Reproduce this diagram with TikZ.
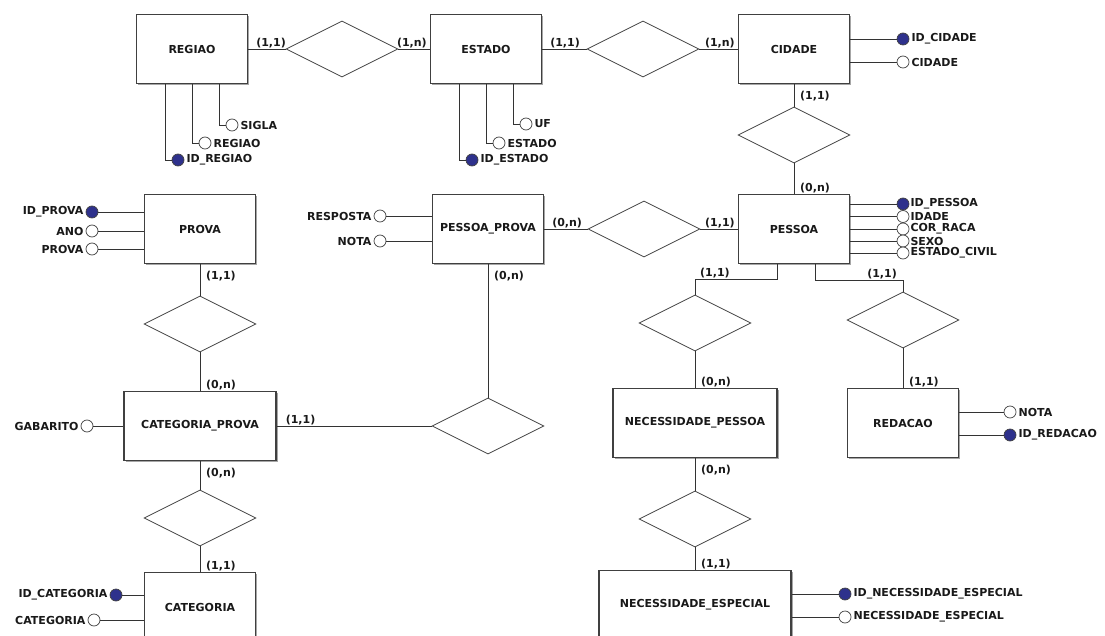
\documentclass[tikz,border=0pt]{standalone}
\usepackage{fontspec}
\setmainfont{DejaVu Sans}
\usetikzlibrary{shapes.geometric,shadows}
\definecolor{keyblue}{RGB}{46,49,140}

\begin{document}
\begin{tikzpicture}[x=1pt,y=-1pt,
  every node/.style={font=\fontsize{11}{12}\selectfont\bfseries, text=black!90},
  entity/.style={draw=black!75, line width=1.1pt, fill=white, inner sep=0pt,
    minimum width=111pt, minimum height=69pt,
    drop shadow={shadow xshift=1.5pt, shadow yshift=-1.5pt, fill=black!35, opacity=1}},
  rel/.style={diamond, draw=black!75, line width=0.8pt, fill=white, inner sep=0pt,
    minimum width=112pt, minimum height=56pt},
  attr/.style={circle, draw=black!75, line width=0.7pt, fill=white, inner sep=0pt,
    minimum size=12pt},
  key/.style={attr, fill=keyblue},
  card/.style={inner sep=1pt},
  lbl/.style={inner sep=2pt},
  conn/.style={draw=black!80, line width=0.8pt}]

\useasboundingbox (0,0) rectangle (1105,636); %% page

%% entidades
\node[entity] (regiao) at (192,49) {REGIAO};
\node[entity] (estado) at (486,49) {ESTADO};
\node[entity] (cidade) at (794,49) {CIDADE};
\node[entity] (prova) at (200,229) {PROVA};
\node[entity] (pessoaprova) at (488,229) {PESSOA\_PROVA};
\node[entity] (pessoa) at (794,229) {PESSOA};
\node[entity, minimum width=152pt] (catprova) at (200,426) {CATEGORIA\_PROVA};
\node[entity, minimum width=164pt] (necpessoa) at (695,423) {NECESSIDADE\_PESSOA};
\node[entity] (redacao) at (903,423) {REDACAO};
\node[entity] (categoria) at (200,607) {CATEGORIA};
\node[entity, minimum width=192pt] (necesp) at (695,605) {NECESSIDADE\_ESPECIAL};

%% relacionamentos
\node[rel] (dRE) at (342,49) {};
\node[rel] (dEC) at (643,49) {};
\node[rel] (dCP) at (794,135) {};
\node[rel] (dPP) at (644,229) {};
\node[rel] (dPC) at (200,324) {};
\node[rel] (dCPP) at (488,426) {};
\node[rel] (dCC) at (200,518) {};
\node[rel] (dPN) at (695,323) {};
\node[rel] (dPR) at (903,320) {};
\node[rel] (dNN) at (695,519) {};

\coordinate (kPN) at ([yshift=15pt]dPN.north);
\coordinate (kPR) at ([yshift=11pt]dPR.north);

\draw[conn] (regiao.east) -- (dRE.west) (dRE.east) -- (estado.west);
\draw[conn] (estado.east) -- (dEC.west) (dEC.east) -- (cidade.west);
\draw[conn] (cidade.south) -- (dCP.north) (dCP.south) -- (pessoa.north);
\draw[conn] (pessoaprova.east) -- (dPP.west) (dPP.east) -- (pessoa.west);
\draw[conn] (prova.south) -- (dPC.north) (dPC.south) -- (catprova.north);
\draw[conn] (catprova.east) -- (dCPP.west) (dCPP.north) -- (pessoaprova.south);
\draw[conn] (catprova.south) -- (dCC.north) (dCC.south) -- (categoria.north);
\draw[conn] ([xshift=-17pt]pessoa.south) |- (kPN) -- (dPN.north);
\draw[conn] ([xshift=21pt]pessoa.south) |- (kPR) -- (dPR.north);
\draw[conn] (dPN.south) -- (necpessoa.north);
\draw[conn] (dPR.south) -- (redacao.north);
\draw[conn] (necpessoa.south) -- (dNN.north) (dNN.south) -- (necesp.north);

%% cardinalidades
\node[card, anchor=south west] (k1) at ([xshift=7pt]regiao.east) {(1,1)};
\node[card, anchor=south east] (k2) at ([xshift=-2pt]estado.west) {(1,n)};
\node[card, anchor=south west] (k3) at ([xshift=7pt]estado.east) {(1,1)};
\node[card, anchor=south east] (k4) at ([xshift=-2pt]cidade.west) {(1,n)};
\node[card, anchor=north west] (k5) at ([xshift=5pt,yshift=-6pt]cidade.south) {(1,1)};
\node[card, anchor=south west] (k6) at ([xshift=5pt]pessoa.north) {(0,n)};
\node[card, anchor=south west] (k7) at ([xshift=7pt]pessoaprova.east) {(0,n)};
\node[card, anchor=south east] (k8) at ([xshift=-2pt]pessoa.west) {(1,1)};
\node[card, anchor=north west] (k9) at ([xshift=5pt,yshift=-6pt]prova.south) {(1,1)};
\node[card, anchor=south west] (k10) at ([xshift=5pt]catprova.north) {(0,n)};
\node[card, anchor=south west] (k11) at ([xshift=8pt]catprova.east) {(1,1)};
\node[card, anchor=north west] (k12) at ([xshift=5pt,yshift=-6pt]pessoaprova.south) {(0,n)};
\node[card, anchor=north west] (k13) at ([xshift=5pt,yshift=-6pt]catprova.south) {(0,n)};
\node[card, anchor=south west] (k14) at ([xshift=5pt]categoria.north) {(1,1)};
\node[card, anchor=south west] (k15) at ([xshift=4pt]kPN) {(1,1)};
\node[card, anchor=south east] (k16) at ([xshift=-5pt]kPR) {(1,1)};
\node[card, anchor=south west] (k17) at ([xshift=5pt]necpessoa.north) {(0,n)};
\node[card, anchor=south west] (k18) at ([xshift=5pt]redacao.north) {(1,1)};
\node[card, anchor=north west] (k19) at ([xshift=5pt,yshift=-6pt]necpessoa.south) {(0,n)};
\node[card, anchor=south west] (k20) at ([xshift=5pt]necesp.north) {(1,1)};

%% atributos REGIAO / ESTADO
\node[attr] (sigla) at (232,125) {};
\node[attr] (regnome) at (205,143) {};
\node[key] (idregiao) at (178,160) {};
\node[lbl, right] (tSigla) at (sigla.east) {SIGLA};
\node[lbl, right] (tRegnome) at (regnome.east) {REGIAO};
\node[lbl, right] (tIdregiao) at (idregiao.east) {ID\_REGIAO};
\draw[conn] ([xshift=27pt]regiao.south) |- (sigla.west);
\draw[conn] (regiao.south) |- (regnome.west);
\draw[conn] ([xshift=-27pt]regiao.south) |- (idregiao.west);

\node[attr] (uf) at (526,124) {};
\node[attr] (estnome) at (499,143) {};
\node[key] (idestado) at (472,160) {};
\node[lbl, right] (tUf) at (uf.east) {UF};
\node[lbl, right] (tEstnome) at (estnome.east) {ESTADO};
\node[lbl, right] (tIdestado) at (idestado.east) {ID\_ESTADO};
\draw[conn] ([xshift=27pt]estado.south) |- (uf.west);
\draw[conn] (estado.south) |- (estnome.west);
\draw[conn] ([xshift=-27pt]estado.south) |- (idestado.west);

%% atributos CIDADE / PESSOA
\node[key] (idcidade) at (903,39) {};
\node[attr] (cidnome) at (903,62) {};
\node[lbl, right] (tIdcidade) at (idcidade.east) {ID\_CIDADE};
\node[lbl, right] (tCidnome) at (cidnome.east) {CIDADE};
\draw[conn] (idcidade.west) -- (idcidade.west -| cidade.east);
\draw[conn] (cidnome.west) -- (cidnome.west -| cidade.east);

\node[key] (idpessoa) at (903,204) {};
\node[attr] (idade) at (903,216.5) {};
\node[attr] (corraca) at (903,229) {};
\node[attr] (sexo) at (903,241) {};
\node[attr] (estcivil) at (903,253) {};
\node[lbl, right, inner sep=1pt] (tIdpessoa) at (idpessoa.east) {ID\_PESSOA};
\node[lbl, right, inner sep=1pt] (tIdade) at (idade.east) {IDADE};
\node[lbl, right, inner sep=1pt] (tCorraca) at (corraca.east) {COR\_RACA};
\node[lbl, right, inner sep=1pt] (tSexo) at (sexo.east) {SEXO};
\node[lbl, right, inner sep=1pt] (tEstcivil) at (estcivil.east) {ESTADO\_CIVIL};
\foreach \a in {idpessoa,idade,corraca,sexo,estcivil}
  \draw[conn] (\a.west) -- (\a.west -| pessoa.east);

%% atributos PROVA / PESSOA_PROVA / CATEGORIA_PROVA
\node[key] (idprova) at (92,212) {};
\node[attr] (ano) at (92,231) {};
\node[attr] (provanome) at (92,249) {};
\node[lbl, left] (tIdprova) at (idprova.west) {ID\_PROVA};
\node[lbl, left] (tAno) at (ano.west) {ANO};
\node[lbl, left] (tProvanome) at (provanome.west) {PROVA};
\foreach \a in {idprova,ano,provanome}
  \draw[conn] (\a.east) -- (\a.east -| prova.west);

\node[attr] (resposta) at (380,216) {};
\node[attr] (nota) at (380,241) {};
\node[lbl, left] (tResposta) at (resposta.west) {RESPOSTA};
\node[lbl, left] (tNota) at (nota.west) {NOTA};
\foreach \a in {resposta,nota}
  \draw[conn] (\a.east) -- (\a.east -| pessoaprova.west);

\node[attr] (gabarito) at (87,426) {};
\node[lbl, left] (tGabarito) at (gabarito.west) {GABARITO};
\draw[conn] (gabarito.east) -- (catprova.west);

%% atributos REDACAO / CATEGORIA / NECESSIDADE_ESPECIAL
\node[attr] (notared) at (1010,412) {};
\node[key] (idredacao) at (1010,435) {};
\node[lbl, right] (tNotared) at (notared.east) {NOTA};
\node[lbl, right] (tIdredacao) at (idredacao.east) {ID\_REDACAO};
\foreach \a in {notared,idredacao}
  \draw[conn] (\a.west) -- (\a.west -| redacao.east);

\node[key] (idcategoria) at (116,595) {};
\node[attr] (catnome) at (94,620) {};
\node[lbl, left] (tIdcategoria) at (idcategoria.west) {ID\_CATEGORIA};
\node[lbl, left] (tCatnome) at (catnome.west) {CATEGORIA};
\foreach \a in {idcategoria,catnome}
  \draw[conn] (\a.east) -- (\a.east -| categoria.west);

\node[key] (idnecesp) at (845,594) {};
\node[attr] (necnome) at (845,617) {};
\node[lbl, right] (tIdnecesp) at (idnecesp.east) {ID\_NECESSIDADE\_ESPECIAL};
\node[lbl, right] (tNecnome) at (necnome.east) {NECESSIDADE\_ESPECIAL};
\foreach \a in {idnecesp,necnome}
  \draw[conn] (\a.west) -- (\a.west -| necesp.east);

\end{tikzpicture}
\end{document}
